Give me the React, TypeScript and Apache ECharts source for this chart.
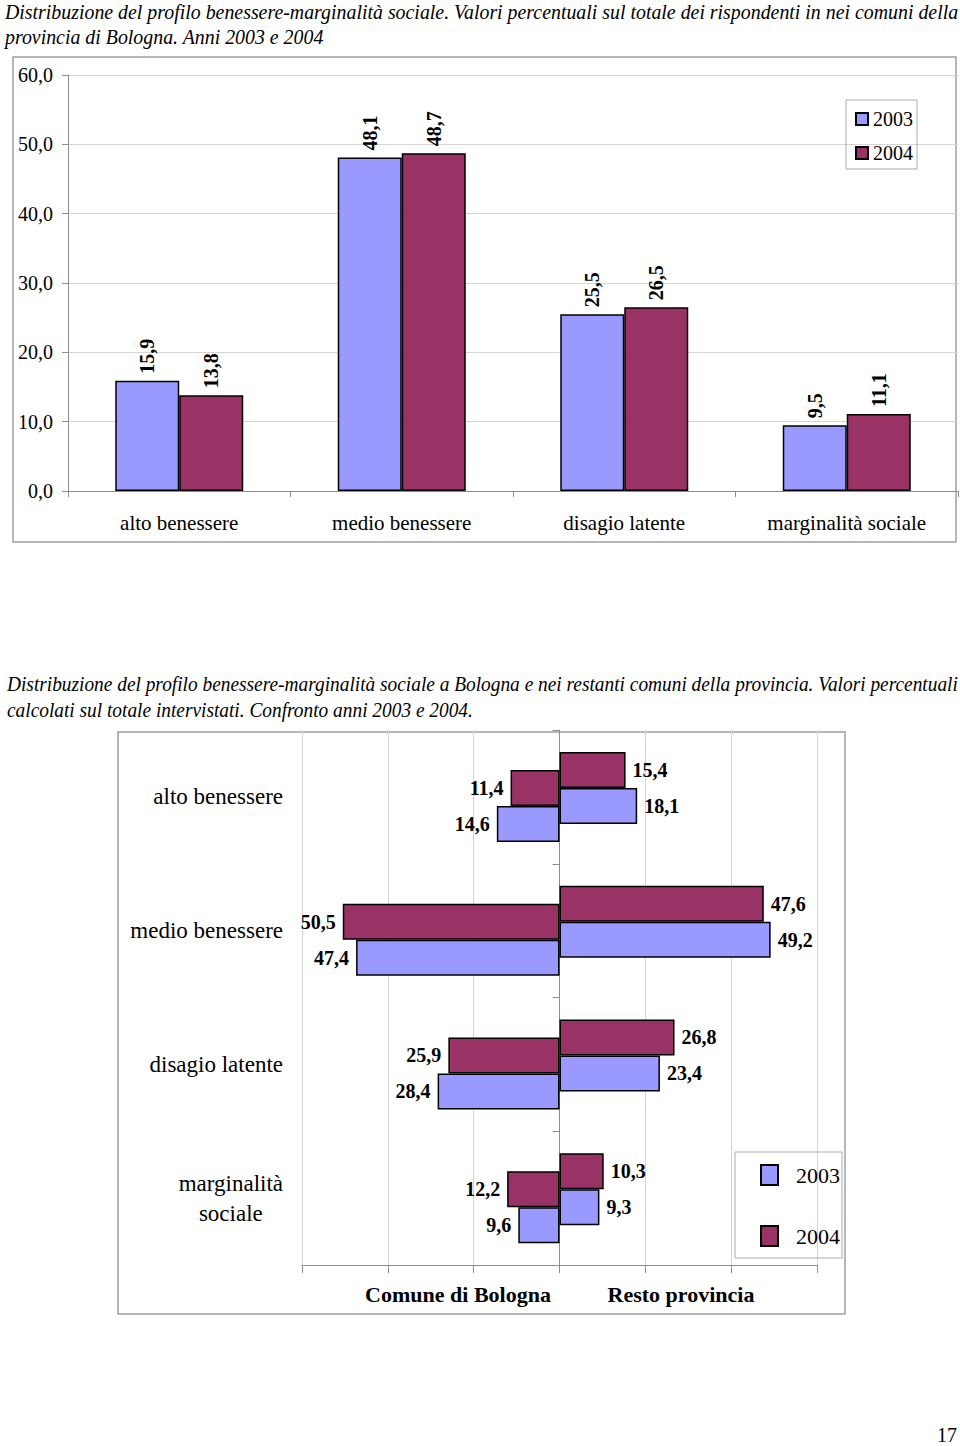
import React, { useEffect, useRef } from 'react';
import * as echarts from 'echarts';

// ---------- data ----------
const categories = ['alto benessere', 'medio benessere', 'disagio latente', 'marginalità sociale'];
const legendNames = ['2003', '2004'];

// chart 1: totale provincia
const total2003 = [15.9, 48.1, 25.5, 9.5];
const total2004 = [13.8, 48.7, 26.5, 11.1];

// chart 2: Bologna vs resto provincia
const bologna2003 = [14.6, 47.4, 28.4, 9.6];
const bologna2004 = [11.4, 50.5, 25.9, 12.2];
const resto2003 = [18.1, 49.2, 23.4, 9.3];
const resto2004 = [15.4, 47.6, 26.8, 10.3];
const groupLabels = ['Comune di Bologna', 'Resto provincia'];

const title1 = [
  'Distribuzione del profilo benessere-marginalità sociale. Valori percentuali sul totale dei rispondenti in nei comuni della',
  'provincia di Bologna. Anni 2003 e 2004',
];
const title2 = [
  'Distribuzione del profilo benessere-marginalità sociale a Bologna e nei restanti comuni della provincia. Valori percentuali',
  'calcolati sul totale intervistati. Confronto anni 2003 e 2004.',
];
const pageNumber = '17';

// ---------- styling ----------
const BLUE = '#9999FF';
const MAROON = '#993366';
const SERIF = '"Liberation Serif", "Times New Roman", serif';
const GRID = '#d4d4d4';
const AXIS = '#8c8c8c';
const BOX = '#a0a0a0';

const fmt = (v: number) => Math.abs(v).toFixed(1).replace('.', ',');

function measure(text: string, font: string): number {
  const c = document.createElement('canvas').getContext('2d');
  if (!c) return text.length * 8;
  c.font = font;
  return c.measureText(text).width;
}

export default function App() {
  const ref = useRef<HTMLDivElement>(null);

  useEffect(() => {
    if (!ref.current) return;
    const chart = echarts.init(ref.current, undefined, { renderer: 'svg' });

    const TITLE_FS = 21;
    const titleFont = `italic ${TITLE_FS}px "Liberation Serif"`;
    const s1 = 953 / measure(title1[0], titleFont);
    const s2 = 951 / measure(title2[0], titleFont);

    const titleText = (text: string, x: number, y: number, sx: number) => ({
      type: 'text',
      x,
      y,
      scaleX: sx,
      style: {
        text,
        fontSize: TITLE_FS,
        fontFamily: SERIF,
        fontStyle: 'italic',
        fill: '#000',
        verticalAlign: 'middle',
        textVerticalAlign: 'middle',
      },
    });

    const centerText = (text: string, x: number, y: number, size: number, weight: string) => ({
      type: 'text',
      x,
      y,
      style: {
        text,
        fontSize: size,
        fontFamily: SERIF,
        fontWeight: weight,
        fill: '#000',
        align: 'center',
        textAlign: 'center',
        verticalAlign: 'middle',
        textVerticalAlign: 'middle',
      },
    });

    const barLabel1 = {
      show: true,
      position: 'top',
      rotate: 90,
      align: 'left',
      verticalAlign: 'middle',
      distance: 7,
      fontWeight: 'bold',
      fontSize: 20,
      fontFamily: SERIF,
      color: '#000',
      formatter: (p: any) => fmt(p.value),
    };

    const barLabel2 = (pos: string) => ({
      show: true,
      position: pos,
      distance: 7,
      fontWeight: 'bold',
      fontSize: 20,
      fontFamily: SERIF,
      color: '#000',
      formatter: (p: any) => fmt(p.value),
    });

    const itemStyle = (color: string) => ({ color, borderColor: '#000', borderWidth: 1.5 });

    const option: any = {
      animation: false,
      backgroundColor: '#fff',
      textStyle: { fontFamily: SERIF },
      grid: [
        { left: 68, top: 75, width: 890, height: 416 },
        { left: 302, top: 730, width: 515, height: 535 },
      ],
      legend: [
        {
          data: legendNames,
          orient: 'vertical',
          left: 846,
          top: 100,
          icon: 'rect',
          itemWidth: 12,
          itemHeight: 12,
          itemGap: 14,
          padding: [9, 4, 6, 9],
          borderColor: '#aaa',
          borderWidth: 1,
          textStyle: { fontFamily: SERIF, fontSize: 20, color: '#000' },
        },
        {
          data: legendNames,
          orient: 'vertical',
          left: 735,
          top: 1152,
          icon: 'rect',
          itemWidth: 17,
          itemHeight: 20,
          itemGap: 39,
          padding: [12, 2, 11, 25],
          borderColor: '#aaa',
          borderWidth: 1,
          textStyle: { fontFamily: SERIF, fontSize: 22, color: '#000', padding: [0, 0, 0, 13] },
        },
      ],
      xAxis: [
        {
          type: 'category',
          gridIndex: 0,
          data: categories,
          axisLine: { show: true, lineStyle: { color: AXIS, width: 1 } },
          axisTick: { show: true, length: 6, lineStyle: { color: AXIS } },
          axisLabel: { fontFamily: SERIF, fontSize: 21, color: '#000', margin: 21 },
          splitLine: { show: false },
        },
        {
          type: 'value',
          gridIndex: 1,
          min: -60,
          max: 60,
          interval: 20,
          axisLine: { show: true, lineStyle: { color: AXIS, width: 1 } },
          axisTick: { show: true, length: 8, lineStyle: { color: AXIS } },
          axisLabel: { show: false },
          splitLine: { show: true, lineStyle: { color: GRID, width: 1 } },
        },
      ],
      yAxis: [
        {
          type: 'value',
          gridIndex: 0,
          min: 0,
          max: 60,
          interval: 10,
          axisLine: { show: true, lineStyle: { color: AXIS, width: 1 } },
          axisTick: { show: true, length: 6, lineStyle: { color: AXIS } },
          axisLabel: {
            fontFamily: SERIF,
            fontSize: 20,
            color: '#000',
            margin: 15,
            formatter: (v: number) => v.toFixed(1).replace('.', ','),
          },
          splitLine: { show: true, lineStyle: { color: GRID, width: 1 } },
        },
        {
          type: 'category',
          gridIndex: 1,
          inverse: true,
          position: 'left',
          data: categories,
          axisLine: { show: false, onZero: false },
          axisTick: { show: false },
          axisLabel: {
            margin: 19,
            color: '#000',
            fontFamily: SERIF,
            fontSize: 23,
            formatter: (v: string) =>
              v === 'marginalità sociale' ? '{c|marginalità}\n{c|sociale}' : v,
            rich: {
              c: { align: 'center', fontFamily: SERIF, fontSize: 23, color: '#000', lineHeight: 30 },
            },
          },
          splitLine: { show: false },
        },
        {
          type: 'category',
          gridIndex: 1,
          inverse: true,
          position: 'left',
          data: categories,
          axisLine: { show: true, onZero: true, lineStyle: { color: AXIS, width: 1 } },
          axisTick: { show: true, length: 7, lineStyle: { color: AXIS } },
          axisLabel: { show: false },
          splitLine: { show: false },
        },
      ],
      series: [
        {
          name: '2003',
          type: 'bar',
          xAxisIndex: 0,
          yAxisIndex: 0,
          data: total2003,
          barWidth: 64,
          barGap: '0%',
          itemStyle: itemStyle(BLUE),
          label: barLabel1,
        },
        {
          name: '2004',
          type: 'bar',
          xAxisIndex: 0,
          yAxisIndex: 0,
          data: total2004,
          barWidth: 64,
          barGap: '0%',
          itemStyle: itemStyle(MAROON),
          label: barLabel1,
        },
        {
          name: '2004',
          type: 'bar',
          xAxisIndex: 1,
          yAxisIndex: 1,
          data: resto2004,
          barWidth: 36,
          barGap: '-50%',
          itemStyle: itemStyle(MAROON),
          label: barLabel2('right'),
        },
        {
          name: '2004',
          type: 'bar',
          xAxisIndex: 1,
          yAxisIndex: 1,
          data: bologna2004.map((v) => -v),
          barWidth: 36,
          barGap: '-50%',
          itemStyle: itemStyle(MAROON),
          label: barLabel2('left'),
        },
        {
          name: '2003',
          type: 'bar',
          xAxisIndex: 1,
          yAxisIndex: 1,
          data: resto2003,
          barWidth: 36,
          barGap: '-50%',
          itemStyle: itemStyle(BLUE),
          label: barLabel2('right'),
        },
        {
          name: '2003',
          type: 'bar',
          xAxisIndex: 1,
          yAxisIndex: 1,
          data: bologna2003.map((v) => -v),
          barWidth: 36,
          barGap: '-50%',
          itemStyle: itemStyle(BLUE),
          label: barLabel2('left'),
        },
      ],
      graphic: [
        titleText(title1[0], 5, 12, s1),
        titleText(title1[1], 5, 37, s1),
        titleText(title2[0], 7, 684, s2),
        titleText(title2[1], 7, 710, s2),
        {
          type: 'rect',
          shape: { x: 13, y: 57, width: 943, height: 485 },
          style: { fill: 'none', stroke: BOX, lineWidth: 1.5 },
          silent: true,
        },
        {
          type: 'rect',
          shape: { x: 118, y: 732, width: 727, height: 582 },
          style: { fill: 'none', stroke: BOX, lineWidth: 1.5 },
          silent: true,
        },
        centerText(groupLabels[0], 458, 1294, 22, 'bold'),
        centerText(groupLabels[1], 681, 1294, 22, 'bold'),
        centerText(pageNumber, 947, 1435, 20, 'normal'),
      ],
    };

    chart.setOption(option);
    return () => chart.dispose();
  }, []);

  return (
    <div
      ref={ref}
      style={{ position: 'absolute', left: 0, top: 0, width: 960, height: 1446, background: '#fff' }}
    />
  );
}
